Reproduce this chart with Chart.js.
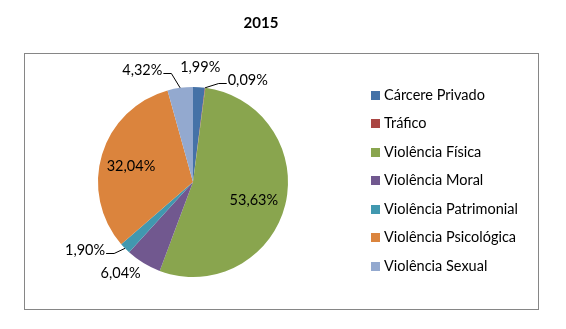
<!DOCTYPE html>
<html>
<head>
<meta charset="utf-8">
<script src="https://cdn.jsdelivr.net/npm/chart.js@4.4.1/dist/chart.umd.min.js"></script>
<style>
  html, body { margin: 0; padding: 0; background: #fff; }
  canvas { display: block; }
</style>
</head>
<body>
<canvas id="myChart" width="566" height="329"></canvas>
<script>
const chartTitle = "2015";
const categories = ["Cárcere Privado", "Tráfico", "Violência Física", "Violência Moral", "Violência Patrimonial", "Violência Psicológica", "Violência Sexual"];
const percentages = [1.99, 0.09, 53.63, 6.04, 1.90, 32.04, 4.32];
const sliceColors = ["#4572A7", "#AA4643", "#89A54E", "#71588F", "#4198AF", "#DB843D", "#93A9CF"];

// small pixel nudges for the data labels, and which ones get a leader line
const labelNudge = [[0, 1], [40, 13], [0, 3], [-12, -8], [-25, -13], [-2, 2], [-35, 3]];
const leaderLine = [false, true, false, false, true, false, true];

const FONT = "Lato, 'Open Sans', sans-serif";

const fmtPct = v => v.toFixed(2).replace(".", ",") + "%";

const frameAndText = {
    id: "frameAndText",
    afterDraw(chart) {
        const c = chart.ctx;
        c.save();

        // outer frame
        c.strokeStyle = "#868686";
        c.lineWidth = 1;
        c.strokeRect(24.5, 53.5, 514, 256);

        // title
        c.fillStyle = "#000";
        c.font = "bold 15px " + FONT;
        c.textAlign = "center";
        c.textBaseline = "middle";
        c.fillText(chartTitle, 261, 23);

        // data labels
        const meta = chart.getDatasetMeta(0);
        c.font = "14.5px " + FONT;
        meta.data.forEach((arc, i) => {
            const p = arc.getProps(["x", "y", "startAngle", "endAngle", "outerRadius"], true);
            const mid = (p.startAngle + p.endAngle) / 2;
            const r = p.outerRadius;
            const d = percentages[i] > 10 ? r * 0.66 : r * 1.22;
            const lx = p.x + d * Math.cos(mid) + labelNudge[i][0];
            const ly = p.y + d * Math.sin(mid) + labelNudge[i][1];
            const txt = fmtPct(percentages[i]);
            c.fillStyle = "#000";
            c.fillText(txt, lx, ly);

            if (leaderLine[i]) {
                const w = c.measureText(txt).width;
                let hx0, hx1;
                if (lx < p.x) {
                    hx0 = lx + w / 2 + 1;
                    hx1 = hx0 + 8;
                } else {
                    hx0 = lx - w / 2 - 1;
                    hx1 = hx0 - 8;
                }
                const hy = Math.round(ly + 3) + 0.5;
                c.strokeStyle = "#000";
                c.lineWidth = 1;
                c.beginPath();
                c.moveTo(hx0, hy);
                c.lineTo(hx1, hy);
                c.lineTo(p.x + r * Math.cos(mid), p.y + r * Math.sin(mid));
                c.stroke();
            }
        });

        // legend
        c.textAlign = "left";
        categories.forEach((name, i) => {
            const yy = 95 + i * 28.5;
            c.fillStyle = sliceColors[i];
            c.fillRect(371, Math.round(yy - 4.5), 9, 9);
            c.fillStyle = "#000";
            c.fillText(name, 384, yy);
        });

        c.restore();
    }
};

const ctx = document.getElementById("myChart").getContext("2d");
const myChart = new Chart(ctx, {
    type: "pie",
    data: {
        labels: categories,
        datasets: [{
            data: percentages,
            backgroundColor: sliceColors,
            borderWidth: 0
        }]
    },
    options: {
        responsive: false,
        animation: false,
        layout: {
            padding: { left: 98, right: 278, top: 87, bottom: 52 }
        },
        plugins: {
            legend: { display: false },
            title: { display: false },
            tooltip: { enabled: false }
        }
    },
    plugins: [frameAndText]
});
</script>
</body>
</html>
